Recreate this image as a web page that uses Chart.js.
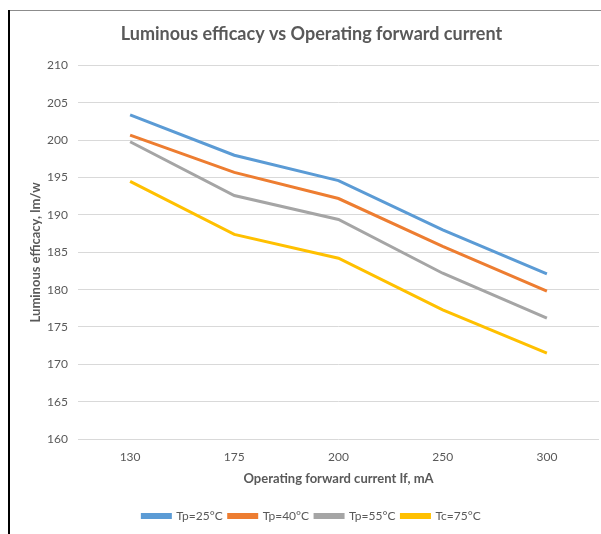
<!DOCTYPE html>
<html>
<head>
<meta charset="utf-8">
<script src="https://cdn.jsdelivr.net/npm/chart.js@4"></script>
<style>
  html, body { margin: 0; padding: 0; background: #fff; }
  #wrap { width: 601px; height: 534px; position: relative; }
</style>
</head>
<body>
<div id="wrap"><canvas id="chart"></canvas></div>
<script>
// data
var currents = ['130', '175', '200', '250', '300'];
var tp25 = [203.4, 198.0, 194.6, 188.0, 182.1];
var tp40 = [200.7, 195.7, 192.2, 185.8, 179.8];
var tp55 = [199.8, 192.6, 189.4, 182.2, 176.2];
var tc75 = [194.5, 187.4, 184.2, 177.3, 171.5];
var seriesNames = ['Tp=25°C', 'Tp=40°C', 'Tp=55°C', 'Tc=75°C'];
var colors = ['#5b9bd5', '#ed7d31', '#a5a5a5', '#ffc000'];

var textGray = '#595959';
var fontFam = 'Lato, "Liberation Sans", sans-serif';

// frame lines like the cropped office screenshot
var framePlugin = {
  id: 'frame',
  beforeDraw: function(chart) {
    var ctx = chart.ctx;
    ctx.save();
    ctx.fillStyle = '#fff';
    ctx.fillRect(0, 0, chart.width, chart.height);
    ctx.strokeStyle = '#8c8c8c';
    ctx.lineWidth = 1;
    ctx.beginPath();
    ctx.moveTo(9, 10.5);
    ctx.lineTo(chart.width, 10.5);
    ctx.stroke();
    ctx.strokeStyle = '#000';
    ctx.lineWidth = 2;
    ctx.beginPath();
    ctx.moveTo(9, 10);
    ctx.lineTo(9, chart.height);
    ctx.stroke();
    ctx.restore();
  }
};

function makeSet(i, values) {
  return {
    label: seriesNames[i],
    data: values,
    borderColor: colors[i],
    backgroundColor: colors[i],
    borderWidth: 3,
    pointRadius: 0,
    tension: 0
  };
}

new Chart(document.getElementById('chart'), {
  type: 'line',
  data: {
    labels: currents,
    datasets: [makeSet(0, tp25), makeSet(1, tp40), makeSet(2, tp55), makeSet(3, tc75)]
  },
  plugins: [framePlugin],
  options: {
    responsive: true,
    maintainAspectRatio: false,
    animation: false,
    layout: { padding: { left: 24, right: 2, top: 10, bottom: 2 } },
    plugins: {
      title: {
        display: true,
        text: 'Luminous efficacy vs Operating forward current',
        color: textGray,
        font: { family: fontFam, size: 18, weight: 'bold' },
        padding: { top: 13, bottom: 21 }
      },
      legend: {
        position: 'bottom',
        labels: {
          color: textGray,
          boxWidth: 28,
          boxHeight: 3,
          padding: 6,
          font: { family: fontFam, size: 12 }
        }
      },
      tooltip: { enabled: false }
    },
    scales: {
      x: {
        offset: true,
        grid: { display: false, drawTicks: false },
        border: { display: false },
        ticks: { color: textGray, padding: 11, font: { family: fontFam, size: 12 } },
        title: {
          display: true,
          text: 'Operating forward current If, mA',
          color: textGray,
          font: { family: fontFam, size: 13, weight: 'bold' },
          padding: { top: 8, bottom: 17 }
        },
        afterFit: function(scale) { scale.height = 65; }
      },
      y: {
        min: 160,
        max: 210,
        ticks: { stepSize: 5, color: textGray, padding: 10, font: { family: fontFam, size: 12 } },
        grid: { color: '#d9d9d9', drawTicks: false },
        border: { display: false },
        title: {
          display: true,
          text: 'Luminous efficacy, lm/w',
          color: textGray,
          font: { family: fontFam, size: 13, weight: 'bold' },
          padding: { top: 4, bottom: 4 }
        },
        afterFit: function(scale) { scale.width = 54; }
      }
    }
  }
});
</script>
</body>
</html>
